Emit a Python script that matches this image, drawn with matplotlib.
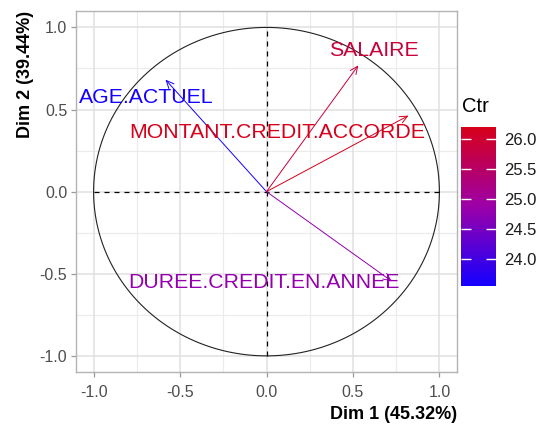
import numpy as np
import matplotlib
matplotlib.use("Agg")
import matplotlib.pyplot as plt
from matplotlib.colors import LinearSegmentedColormap, Normalize
from matplotlib.cm import ScalarMappable

plt.rcParams["font.family"] = ["Liberation Sans", "DejaVu Sans"]

# Variable correlations with the first two principal dimensions
variables = ["AGE.ACTUEL", "SALAIRE", "MONTANT.CREDIT.ACCORDE", "DUREE.CREDIT.EN.ANNEE"]
dim1 = [-0.584, 0.531, 0.821, 0.725]
dim2 = [0.682, 0.769, 0.463, -0.546]
ctr = [23.56, 25.9, 26.2, 24.8]

dim1_label = "Dim 1 (45.32%)"
dim2_label = "Dim 2 (39.44%)"
axis_ticks = [-1.0, -0.5, 0.0, 0.5, 1.0]
ctr_ticks = [24.0, 24.5, 25.0, 25.5, 26.0]

# label placement relative to each arrow tip (data units)
label_offsets = [(-0.110, -0.110), (0.092, 0.093), (-0.758, -0.103), (-0.742, -0.005)]

cmap = LinearSegmentedColormap.from_list(
    "ctr", [(0.0, "#1400FF"), (0.5, "#9C00A8"), (1.0, "#D6001A")])
norm = Normalize(min(ctr), max(ctr))

W, H = 541, 426
fig = plt.figure(figsize=(W / 100, H / 100), dpi=100)
ax = fig.add_axes([76.3 / W, 1 - 372.3 / H, (456.7 - 76.3) / W, (372.3 - 11) / H])

ax.set_xlim(-1.1, 1.1)
ax.set_ylim(-1.1, 1.1)
ax.set_facecolor("white")

# grid
for v in [-0.75, -0.25, 0.25, 0.75]:
    ax.axvline(v, color="#EBEBEB", lw=0.8, zorder=0)
    ax.axhline(v, color="#EBEBEB", lw=0.8, zorder=0)
for v in axis_ticks:
    ax.axvline(v, color="#E0E0E0", lw=1.1, zorder=0)
    ax.axhline(v, color="#E0E0E0", lw=1.1, zorder=0)

for s in ax.spines.values():
    s.set_color("#B3B3B3")
    s.set_linewidth(1.0)

# unit circle and dashed axes
t = np.linspace(0, 2 * np.pi, 400)
ax.plot(np.cos(t), np.sin(t), color="#222222", lw=0.8, zorder=2)
ax.plot([-1, 1], [0, 0], color="black", lw=0.9, ls=(0, (4, 4)), zorder=2)
ax.plot([0, 0], [-1, 1], color="black", lw=0.9, ls=(0, (4, 4)), zorder=2)

# arrows and labels
for name, x, y, c, (dx, dy) in zip(variables, dim1, dim2, ctr, label_offsets):
    col = cmap(norm(c))
    ax.annotate("", xy=(x, y), xytext=(0, 0),
                arrowprops=dict(arrowstyle="->,head_length=0.55,head_width=0.25",
                                color=col, lw=0.7, shrinkA=0, shrinkB=0),
                zorder=3)
    ax.text(x + dx, y + dy, name, color=col, fontsize=15.3,
            ha="center", va="center", zorder=4)

ax.set_xticks(axis_ticks)
ax.set_yticks(axis_ticks)
ax.set_xticklabels([f"{v:.1f}" for v in axis_ticks])
ax.set_yticklabels([f"{v:.1f}" for v in axis_ticks])
ax.tick_params(axis="both", colors="#999999", labelcolor="#4D4D4D",
               labelsize=11.5, length=3.5, width=0.9)
ax.tick_params(axis="x", pad=5.5)
ax.tick_params(axis="y", pad=3)

ax.set_xlabel(dim1_label, fontsize=13, fontweight="bold", loc="right", labelpad=4.5)
ax.set_ylabel(dim2_label, fontsize=13, fontweight="bold", loc="top", labelpad=4)

# colour bar
cax = fig.add_axes([461 / W, 1 - 286 / H, 35 / W, 159 / H])
sm = ScalarMappable(norm=norm, cmap=cmap)
cb = fig.colorbar(sm, cax=cax, ticks=ctr_ticks)
cb.outline.set_visible(False)
cb.ax.set_yticklabels([f"{v:.1f}" for v in ctr_ticks])
cb.ax.tick_params(axis="y", direction="in", left=True, right=True,
                  color="white", length=7, width=1.0, labelsize=12,
                  labelcolor="#1A1A1A", pad=6)
fig.text(462 / W, 1 - 106 / H, "Ctr", fontsize=14.5, ha="left", va="center")

fig.savefig("out.png", dpi=100, facecolor="white")
